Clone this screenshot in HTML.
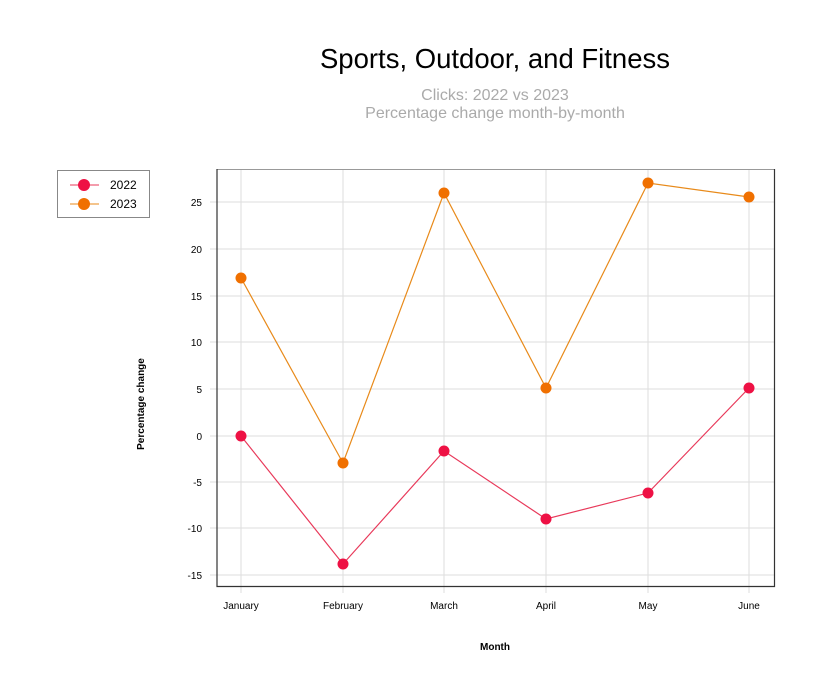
<!DOCTYPE html>
<html><head><meta charset="utf-8"><style>body{margin:0;background:#fff}svg{display:block}text{font-family:"Liberation Sans",sans-serif}</style></head><body>
<svg width="831" height="700" xmlns="http://www.w3.org/2000/svg">
<text x="495" y="68" font-size="27.5" text-anchor="middle" fill="#000">Sports, Outdoor, and Fitness</text>
<text x="495" y="100" font-size="16" text-anchor="middle" fill="#aaa">Clicks: 2022 vs 2023</text>
<text x="495" y="118" font-size="16" text-anchor="middle" fill="#aaa">Percentage change month-by-month</text>
<g stroke="#ddd" stroke-width="1">
<line x1="210" y1="202" x2="774" y2="202"/><line x1="210" y1="249" x2="774" y2="249"/><line x1="210" y1="296" x2="774" y2="296"/><line x1="210" y1="342" x2="774" y2="342"/><line x1="210" y1="389" x2="774" y2="389"/><line x1="210" y1="436" x2="774" y2="436"/><line x1="210" y1="482" x2="774" y2="482"/><line x1="210" y1="528" x2="774" y2="528"/><line x1="210" y1="575" x2="774" y2="575"/>
<line x1="241" y1="170" x2="241" y2="593"/><line x1="343" y1="170" x2="343" y2="593"/><line x1="444" y1="170" x2="444" y2="593"/><line x1="546" y1="170" x2="546" y2="593"/><line x1="648" y1="170" x2="648" y2="593"/><line x1="749" y1="170" x2="749" y2="593"/>
</g>
<line x1="217" y1="169.5" x2="774" y2="169.5" stroke="#999"/>
<polyline points="217,169 217,586.5 774.5,586.5 774.5,169" fill="none" stroke="#333" stroke-width="1.2"/>
<g font-size="10" fill="#000" text-anchor="end">
<text x="202" y="206">25</text><text x="202" y="253">20</text><text x="202" y="300">15</text><text x="202" y="346">10</text><text x="202" y="393">5</text><text x="202" y="440">0</text><text x="202" y="486">-5</text><text x="202" y="532">-10</text><text x="202" y="579">-15</text>
</g>
<g font-size="10" fill="#000" text-anchor="middle">
<text x="241" y="609">January</text><text x="343" y="609">February</text><text x="444" y="609">March</text><text x="546" y="609">April</text><text x="648" y="609">May</text><text x="749" y="609">June</text>
</g>
<text x="495" y="650" font-size="10" font-weight="bold" text-anchor="middle">Month</text>
<text x="144" y="404" font-size="10" font-weight="bold" text-anchor="middle" transform="rotate(-90 144 404)">Percentage change</text>
<polyline points="241,436 343,564 444,451 546,519 648,493 749,388" fill="none" stroke="#e8395a" stroke-width="1.2"/>
<polyline points="241,278 343,463 444,193 546,388 648,183 749,197" fill="none" stroke="#e88a1a" stroke-width="1.2"/>
<g fill="#ee1144"><circle cx="241" cy="436" r="5.5"/><circle cx="343" cy="564" r="5.5"/><circle cx="444" cy="451" r="5.5"/><circle cx="546" cy="519" r="5.5"/><circle cx="648" cy="493" r="5.5"/><circle cx="749" cy="388" r="5.5"/></g>
<g fill="#f07000"><circle cx="241" cy="278" r="5.5"/><circle cx="343" cy="463" r="5.5"/><circle cx="444" cy="193" r="5.5"/><circle cx="546" cy="388" r="5.5"/><circle cx="648" cy="183" r="5.5"/><circle cx="749" cy="197" r="5.5"/></g>
<rect x="57.5" y="170.5" width="92" height="47" fill="#fff" stroke="#888"/>
<line x1="70" y1="185" x2="99" y2="185" stroke="#e8395a"/><circle cx="84" cy="185" r="6" fill="#ee1144"/>
<line x1="70" y1="204" x2="99" y2="204" stroke="#e88a1a"/><circle cx="84" cy="204" r="6" fill="#f07000"/>
<text x="110" y="189" font-size="12">2022</text><text x="110" y="208" font-size="12">2023</text>
</svg>
</body></html>
